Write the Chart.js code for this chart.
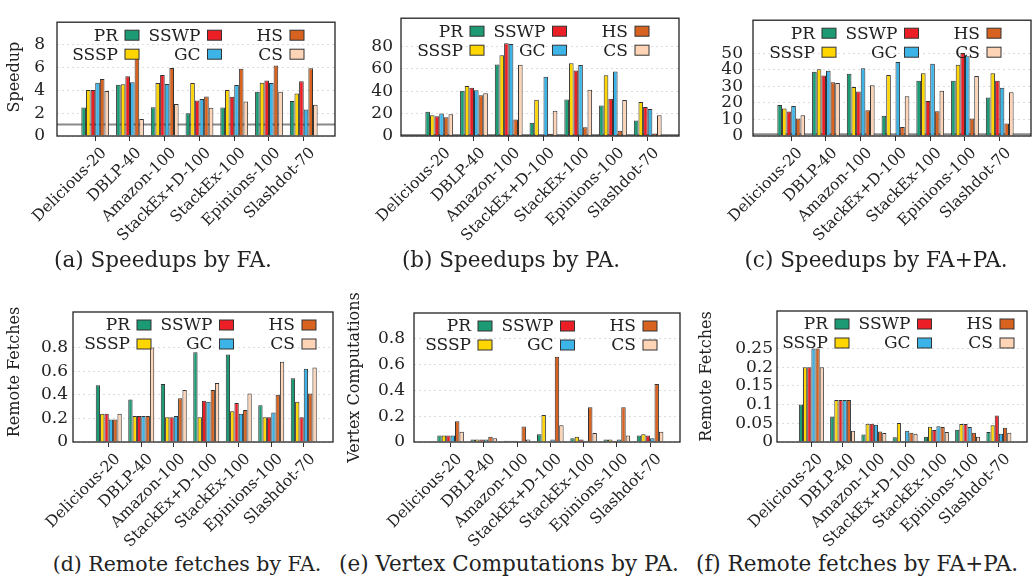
<!DOCTYPE html>
<html>
<head>
<meta charset="utf-8">
<script src="https://cdn.jsdelivr.net/npm/chart.js@4.4.0/dist/chart.umd.min.js"></script>
<style>
body { margin: 0; background: #fff; }
#fig { position: relative; width: 1033px; height: 583px; overflow: hidden; font-family: "DejaVu Serif", serif; color: #222; }
#fig canvas { position: absolute; }
.cap { position: absolute; width: 400px; text-align: center; font-size: 21.5px; white-space: nowrap; }
</style>
</head>
<body>
<div id="fig">
  <canvas id="speedup-fa"></canvas>
  <canvas id="speedup-pa"></canvas>
  <canvas id="speedup-both"></canvas>
  <canvas id="fetches-fa"></canvas>
  <canvas id="computations-pa"></canvas>
  <canvas id="fetches-both"></canvas>
  <div class="cap" style="left:-37px;top:247px">(a) Speedups by FA.</div>
  <div class="cap" style="left:311px;top:247px">(b) Speedups by PA.</div>
  <div class="cap" style="left:676px;top:247px">(c) Speedups by FA+PA.</div>
  <div class="cap" style="left:-13px;top:552px;font-size:20.5px">(d) Remote fetches by FA.</div>
  <div class="cap" style="left:309px;top:551px">(e) Vertex Computations by PA.</div>
  <div class="cap" style="left:657px;top:551px">(f) Remote fetches by FA+PA.</div>
</div>
<script>
var algorithms = ['PR', 'SSSP', 'SSWP', 'GC', 'HS', 'CS'];
var categories = ['Delicious-20', 'DBLP-40', 'Amazon-100', 'StackEx+D-100', 'StackEx-100', 'Epinions-100', 'Slashdot-70'];

// one row per algorithm (same order as above), one value per graph
var speedupFA = [
    [2.5, 4.5, 2.53, 2.0, 2.5, 3.89, 3.07],
    [4.04, 4.55, 4.65, 4.65, 4.04, 4.68, 3.73],
    [4.05, 5.24, 5.35, 3.12, 3.45, 4.88, 4.81],
    [4.68, 4.73, 4.58, 3.25, 4.48, 4.65, 2.33],
    [5.01, 6.9, 5.98, 3.48, 5.9, 6.19, 5.96],
    [3.96, 1.5, 2.81, 2.48, 3.04, 3.89, 2.74]
];
var speedupPA = [
    [21.7, 40.4, 63.7, 11.9, 32.5, 27.1, 13.8],
    [18.4, 44.5, 71.9, 32.3, 64.8, 54.2, 30.4],
    [17.6, 43.1, 82.7, 0.3, 58.3, 33.1, 25.8],
    [20.1, 40.7, 81.9, 52.9, 63.2, 57.5, 24.1],
    [16.8, 36.3, 14.6, 1.9, 7.9, 4.6, 2.2],
    [19.3, 38.0, 63.5, 22.5, 41.2, 32.0, 18.4]
];
var speedupBoth = [
    [18.8, 38.8, 37.7, 12.3, 33.4, 33.4, 23.3],
    [16.6, 40.3, 29.6, 36.8, 37.9, 43.1, 37.9],
    [14.8, 36.6, 26.9, 0.3, 21.1, 50.2, 33.4],
    [18.1, 39.4, 41.0, 44.8, 43.7, 48.2, 29.2],
    [10.6, 32.5, 15.5, 5.4, 15.0, 10.6, 7.6],
    [12.5, 32.1, 30.7, 24.0, 27.4, 36.3, 26.5]
];
var fetchesFA = [
    [0.48, 0.36, 0.49, 0.76, 0.74, 0.31, 0.54],
    [0.24, 0.22, 0.21, 0.21, 0.26, 0.21, 0.34],
    [0.24, 0.22, 0.21, 0.35, 0.33, 0.21, 0.21],
    [0.19, 0.22, 0.22, 0.34, 0.24, 0.25, 0.62],
    [0.19, 0.22, 0.37, 0.44, 0.27, 0.40, 0.41],
    [0.24, 0.80, 0.44, 0.50, 0.41, 0.68, 0.63]
];
var computationsPA = [
    [0.05, 0.02, 0.01, 0.06, 0.03, 0.02, 0.05],
    [0.05, 0.02, 0.01, 0.21, 0.04, 0.02, 0.06],
    [0.05, 0.02, 0.01, 0.002, 0.02, 0.01, 0.05],
    [0.05, 0.02, 0.005, 0.02, 0.01, 0.02, 0.03],
    [0.16, 0.04, 0.12, 0.66, 0.27, 0.27, 0.45],
    [0.08, 0.03, 0.02, 0.13, 0.07, 0.05, 0.08]
];
var fetchesBoth = [
    [0.10, 0.068, 0.020, 0.013, 0.014, 0.033, 0.027],
    [0.20, 0.112, 0.049, 0.051, 0.041, 0.048, 0.045],
    [0.20, 0.112, 0.049, 0.001, 0.032, 0.048, 0.071],
    [0.25, 0.112, 0.046, 0.030, 0.042, 0.040, 0.022],
    [0.25, 0.112, 0.028, 0.025, 0.040, 0.025, 0.038],
    [0.20, 0.030, 0.024, 0.022, 0.027, 0.014, 0.025]
];

var speedupFATicks = [0, 2, 4, 6, 8];
var speedupPATicks = [0, 20, 40, 60, 80];
var speedupBothTicks = [0, 10, 20, 30, 40, 50];
var fetchesFATicks = [0, 0.2, 0.4, 0.6, 0.8];
var computationsPATicks = [0, 0.2, 0.4, 0.6, 0.8];
var fetchesBothTicks = [0, 0.05, 0.1, 0.15, 0.2, 0.25];

var seriesColors = ['#1b9a73', '#ffd600', '#ec1f26', '#3cb4e7', '#d8621f', '#fdd4b6'];
var serif = '"DejaVu Serif", serif';

// frame, y=1 line, legend and y title, drawn gnuplot-style
var figurePlugin = {
    id: 'figure',
    beforeDatasetsDraw: function(chart, args, opts) {
        if (opts.refLine == null) return;
        var ctx = chart.ctx, a = chart.chartArea;
        var y = chart.scales.y.getPixelForValue(opts.refLine);
        ctx.save();
        ctx.strokeStyle = '#8a8a8a';
        ctx.lineWidth = 2;
        ctx.beginPath();
        ctx.moveTo(a.left, y);
        ctx.lineTo(a.right, y);
        ctx.stroke();
        ctx.restore();
    },
    afterDraw: function(chart, args, opts) {
        var ctx = chart.ctx, a = chart.chartArea;
        ctx.save();
        ctx.strokeStyle = '#222';
        ctx.lineWidth = 1.3;
        ctx.strokeRect(a.left, a.top, a.right - a.left, a.bottom - a.top);

        ctx.font = '17px ' + serif;
        ctx.textAlign = 'right';
        ctx.textBaseline = 'middle';
        chart.data.datasets.forEach(function(ds, i) {
            var bx = a.left + opts.legendX + Math.floor(i / 2) * 82.5;
            var by = a.top + (i % 2 ? 32 : 13);
            ctx.fillStyle = '#222';
            ctx.fillText(ds.label, bx - 7, by + 1);
            ctx.fillStyle = ds.backgroundColor;
            ctx.fillRect(bx, by - 5, 14, 10);
            ctx.strokeStyle = '#333';
            ctx.lineWidth = 1;
            ctx.strokeRect(bx, by - 5, 14, 10);
        });

        if (opts.yTitle) {
            ctx.translate(opts.yTitleX, (a.top + a.bottom) / 2 + (opts.yTitleDy || 0));
            ctx.rotate(-Math.PI / 2);
            ctx.textAlign = 'center';
            ctx.fillStyle = '#222';
            ctx.font = '16px ' + serif;
            ctx.fillText(opts.yTitle, 0, 0);
        }
        ctx.restore();
    }
};

function makeChart(id, box, frame, rows, yTicks, yMax, fig) {
    var canvas = document.getElementById(id);
    canvas.width = box.w;
    canvas.height = box.h;
    canvas.style.left = box.l + 'px';
    canvas.style.top = box.t + 'px';

    var datasets = rows.map(function(vals, k) {
        return {
            label: algorithms[k],
            data: vals.map(function(v, i) { return {x: i, y: v}; }),
            backgroundColor: seriesColors[k],
            borderColor: '#333',
            borderWidth: 1,
            categoryPercentage: 0.8,
            barPercentage: 1
        };
    });

    return new Chart(canvas, {
        type: 'bar',
        data: {datasets: datasets},
        plugins: [figurePlugin],
        options: {
            responsive: false,
            animation: false,
            layout: {padding: {left: 0, top: frame.top - box.t, right: box.l + box.w - frame.right, bottom: 0}},
            plugins: {
                legend: {display: false},
                tooltip: {enabled: false},
                figure: fig
            },
            scales: {
                x: {
                    type: 'linear',
                    offset: false,
                    min: -1.1,
                    max: 6.9,
                    afterBuildTicks: function(scale) {
                        scale.ticks = categories.map(function(c, i) { return {value: i}; });
                    },
                    afterFit: function(scale) { scale.height = box.t + box.h - frame.bottom; },
                    ticks: {
                        autoSkip: false,
                        minRotation: 45,
                        maxRotation: 45,
                        padding: 3,
                        labelOffset: 9,
                        color: '#222',
                        font: {family: serif, size: 15.5},
                        callback: function(v, i) { return categories[i]; }
                    },
                    grid: {offset: false, drawOnChartArea: false, drawTicks: true, tickLength: 5, tickColor: '#333'},
                    border: {display: false}
                },
                y: {
                    min: 0,
                    max: yMax,
                    afterBuildTicks: function(scale) {
                        scale.ticks = yTicks.map(function(v) { return {value: v}; });
                    },
                    afterFit: function(scale) { scale.width = frame.left - box.l; },
                    ticks: {
                        autoSkip: false,
                        padding: fig.tickPad,
                        color: '#222',
                        font: {family: serif, size: 17},
                        callback: function(v) { return String(+v.toFixed(3)); }
                    },
                    grid: {color: '#dcdcdc', drawTicks: false},
                    border: {display: false, dash: [2, 3]}
                }
            }
        }
    });
}

makeChart('speedup-fa', {l: 0, t: 0, w: 340, h: 250}, {left: 57, top: 5, right: 335, bottom: 136},
    speedupFA, speedupFATicks, 10,
    {refLine: 1, legendX: 68, tickPad: 12, yTitle: 'Speedup', yTitleX: 15, yTitleDy: -2});
makeChart('speedup-pa', {l: 340, t: 0, w: 345, h: 250}, {left: 401, top: 5, right: 679, bottom: 136},
    speedupPA, speedupPATicks, 105,
    {refLine: 1, legendX: 69, tickPad: 8});
makeChart('speedup-both', {l: 685, t: 0, w: 348, h: 250}, {left: 753, top: 5, right: 1031, bottom: 136},
    speedupBoth, speedupBothTicks, 70,
    {refLine: 1, legendX: 69, tickPad: 10});
makeChart('fetches-fa', {l: 0, t: 285, w: 340, h: 265}, {left: 73, top: 312, right: 333, bottom: 442},
    fetchesFA, fetchesFATicks, 1.1,
    {legendX: 64, tickPad: 5, yTitle: 'Remote Fetches', yTitleX: 15, yTitleDy: -5});
makeChart('computations-pa', {l: 340, t: 285, w: 345, h: 265}, {left: 414, top: 313, right: 680, bottom: 442},
    computationsPA, computationsPATicks, 1.0,
    {legendX: 64, tickPad: 9, yTitle: 'Vertex Computations', yTitleX: 15});
makeChart('fetches-both', {l: 685, t: 285, w: 348, h: 265}, {left: 777, top: 311, right: 1027, bottom: 442},
    fetchesBoth, fetchesBothTicks, 0.35,
    {legendX: 58, tickPad: 4, yTitle: 'Remote Fetches', yTitleX: 22});
</script>
</body>
</html>
